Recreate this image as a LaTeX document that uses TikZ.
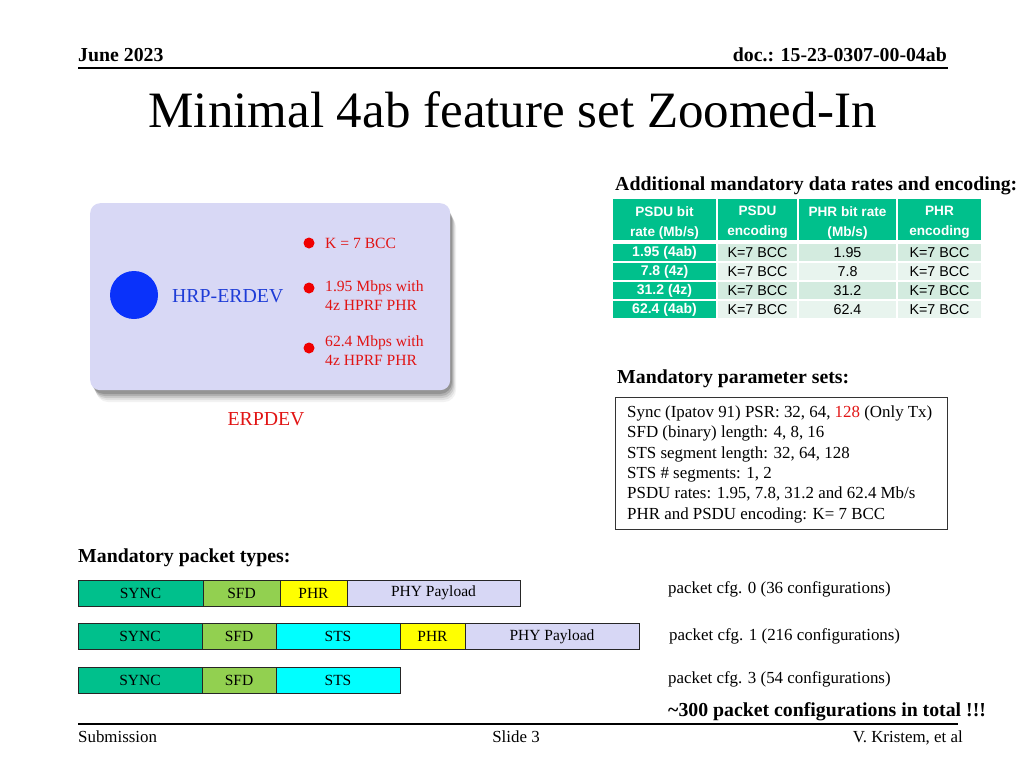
\documentclass[tikz,border=0pt]{standalone}
\usepackage{fontspec}
\setmainfont{Liberation Serif}
\setsansfont{Liberation Sans}
\definecolor{teal1}{RGB}{0,192,140}
\definecolor{rowA}{RGB}{211,235,223}
\definecolor{rowB}{RGB}{232,244,238}
\definecolor{sfdg}{RGB}{146,208,80}
\definecolor{stsc}{RGB}{0,255,255}
\definecolor{phry}{RGB}{255,255,0}
\definecolor{payl}{RGB}{215,215,245}
\definecolor{lav}{RGB}{216,216,245}
\definecolor{dotred}{RGB}{240,0,0}
\definecolor{txtred}{RGB}{225,20,20}
\definecolor{cblue}{RGB}{10,50,250}
\definecolor{tblue}{RGB}{30,60,215}
\tikzset{
  hdr/.style={fill=teal1,inner sep=0pt,minimum height=41pt},
  hdrt/.style={text=white,font=\sffamily\bfseries\fontsize{13.6}{20}\selectfont,align=center,inner sep=0pt},
  firstc/.style={fill=teal1,text=white,font=\sffamily\bfseries\fontsize{14}{16}\selectfont,inner sep=0pt,minimum height=17.5pt,minimum width=103pt},
  bodyc/.style={text=black,font=\sffamily\fontsize{14.3}{15}\selectfont,inner sep=0pt,minimum height=17.5pt},
  pkt/.style={draw=black!85,line width=0.9pt,font=\fontsize{15.5}{16}\selectfont,inner sep=0pt,outer sep=0pt,minimum height=26pt,anchor=west},
  lbl/.style={anchor=base west,inner sep=0pt},
  redt/.style={anchor=base west,inner sep=0pt,text=txtred,font=\fontsize{15.6}{18}\selectfont,align=left},
  rdot/.style={circle,fill=dotred,inner sep=0pt,minimum size=11pt},
  bhead/.style={anchor=base west,inner sep=0pt,font=\bfseries\fontsize{19.8}{22}\selectfont},
}
\begin{document}
\begin{tikzpicture}[x=1pt,y=-1pt]
\useasboundingbox (0,0) rectangle (1024,768);
% header
\node[lbl,font=\bfseries\fontsize{19.8}{22}\selectfont] (date) at (78,62) {June 2023};
\node[anchor=base east,inner sep=0pt,font=\bfseries\fontsize{19.8}{22}\selectfont] (doc) at (947,62) {doc.: 15-23-0307-00-04ab};
\coordinate (hl1) at (78,68); \coordinate (hl2) at (948,68);
\draw[line width=1.6pt] (hl1) -- (hl2);
% title
\node[anchor=base,inner sep=0pt,font=\fontsize{51}{56}\selectfont] (title) at (512.5,127) {Minimal 4ab feature set Zoomed-In};
% left rounded box with shadow
\foreach \o/\op in {12/0.05,10/0.07,8/0.1,6/0.13,4/0.16}{
  \fill[black,opacity=\op,rounded corners=12pt] (90+\o*0.5,203+\o) rectangle (450+\o*0.5,390+\o);
}
\node[draw=none,fill=lav,rounded corners=10pt,minimum width=360pt,minimum height=187pt,anchor=north west] (erbox) at (90,203) {};
\node[circle,fill=cblue,minimum size=48pt,inner sep=0pt] (bcirc) at (134,295) {};
\node[lbl,text=tblue,font=\fontsize{19.8}{22}\selectfont] (hrp) at (172,302) {HRP-ERDEV};
\node[rdot] (d1) at (309,243) {};
\node[rdot] (d2) at (309,288) {};
\node[rdot] (d3) at (309,348) {};
\node[redt] (r1) at (325,248) {K = 7 BCC};
\node[redt] (r2a) at (325,291) {1.95 Mbps with};
\node[redt] (r2b) at (325,310) {4z HPRF PHR};
\node[redt] (r3a) at (325,346) {62.4 Mbps with};
\node[redt] (r3b) at (325,365) {4z HPRF PHR};
\node[anchor=base,inner sep=0pt,text=txtred,font=\fontsize{19.8}{22}\selectfont] (erp) at (266,425) {ERPDEV};
% table
\node[bhead] (addh) at (615,190) {Additional mandatory data rates and encoding:};
\node[hdr,minimum width=103pt] (h1) at (664.5,219.5) {};
\node[hdr,minimum width=79pt] (h2) at (757.5,219.5) {};
\node[hdr,minimum width=97pt] (h3) at (847.5,219.5) {};
\node[hdr,minimum width=83pt] (h4) at (939.5,219.5) {};
\node[hdrt,yshift=-3pt] (h1t) at (h1.center) {PSDU bit\\rate (Mb/s)};
\node[hdrt,yshift=-3pt] (h2t) at (h2.center) {PSDU\\encoding};
\node[hdrt,yshift=-3pt] (h3t) at (h3.center) {PHR bit rate\\(Mb/s)};
\node[hdrt,yshift=-3pt] (h4t) at (h4.center) {PHR\\encoding};
\foreach \y/\a/\b/\c [count=\i] in {252.5/1.95 (4ab)/1.95/rowA, 271.5/7.8 (4z)/7.8/rowB, 290.5/31.2 (4z)/31.2/rowA, 309.5/62.4 (4ab)/62.4/rowB}{
  \node[firstc] (t\i a) at (664.5,\y) {\a};
  \node[bodyc,fill=\c,minimum width=79pt] (t\i b) at (757.5,\y) {K=7 BCC};
  \node[bodyc,fill=\c,minimum width=97pt] (t\i c) at (847.5,\y) {\b};
  \node[bodyc,fill=\c,minimum width=83pt] (t\i d) at (939.5,\y) {K=7 BCC};
}
% parameter sets
\node[bhead] (mph) at (617,383) {Mandatory parameter sets:};
\node[draw=black!80,line width=0.9pt,minimum width=332pt,minimum height=132pt,anchor=north west,inner sep=0pt] (pbox) at (615,397) {};
\begin{scope}[every node/.style={lbl,font=\fontsize{16.9}{18}\selectfont}]
\node (p1) at (627,417) {Sync (Ipatov 91) PSR: 32, 64, \textcolor{txtred}{128} (Only Tx)};
\node (p2) at (627,437.5) {SFD (binary) length: 4, 8, 16};
\node (p3) at (627,458) {STS segment length: 32, 64, 128};
\node (p4) at (627,478) {STS \# segments: 1, 2};
\node (p5) at (627,498.5) {PSDU rates: 1.95, 7.8, 31.2 and 62.4 Mb/s};
\node (p6) at (627,519) {PHR and PSDU encoding: K= 7 BCC};
\end{scope}
% packet types
\node[bhead] (mpt) at (78,562) {Mandatory packet types:};
% row 1
\node[pkt,fill=teal1,minimum width=125pt] (a1) at (78,593) {SYNC};
\node[pkt,fill=sfdg,minimum width=77pt] (a2) at (a1.east) {SFD};
\node[pkt,fill=phry,minimum width=67pt] (a3) at (a2.east) {PHR};
\node[pkt,fill=payl,minimum width=173pt] (a4) at (a3.east) {PHY Payload};
% row 2
\node[pkt,fill=teal1,minimum width=124pt] (b1) at (78,636.5) {SYNC};
\node[pkt,fill=sfdg,minimum width=74pt] (b2) at (b1.east) {SFD};
\node[pkt,fill=stsc,minimum width=124pt] (b3) at (b2.east) {STS};
\node[pkt,fill=phry,minimum width=65pt] (b4) at (b3.east) {PHR};
\node[pkt,fill=payl,minimum width=174pt] (b5) at (b4.east) {PHY Payload};
% row 3
\node[pkt,fill=teal1,minimum width=124pt] (c1) at (78,680) {SYNC};
\node[pkt,fill=sfdg,minimum width=74pt] (c2) at (c1.east) {SFD};
\node[pkt,fill=stsc,minimum width=124pt] (c3) at (c2.east) {STS};
% cfg labels
\begin{scope}[every node/.style={lbl,font=\fontsize{16.9}{18}\selectfont}]
\node (g0) at (668,593) {packet cfg. 0 (36 configurations)};
\node (g1) at (669,640) {packet cfg. 1 (216 configurations)};
\node (g3) at (668,683) {packet cfg. 3 (54 configurations)};
\end{scope}
\node[bhead] (tot) at (668,716) {\textasciitilde300 packet configurations in total !!!};
% footer
\coordinate (fl1) at (78,724); \coordinate (fl2) at (958,724);
\draw[line width=1.2pt] (fl1) -- (fl2);
\node[lbl,font=\fontsize{16.9}{18}\selectfont] (sub) at (78,742) {Submission};
\node[anchor=base,inner sep=0pt,font=\fontsize{16.9}{18}\selectfont] (slide) at (516,742) {Slide 3};
\node[anchor=base east,inner sep=0pt,font=\fontsize{16.9}{18}\selectfont] (auth) at (963,742) {V. Kristem, et al};
\end{tikzpicture}
\end{document}
